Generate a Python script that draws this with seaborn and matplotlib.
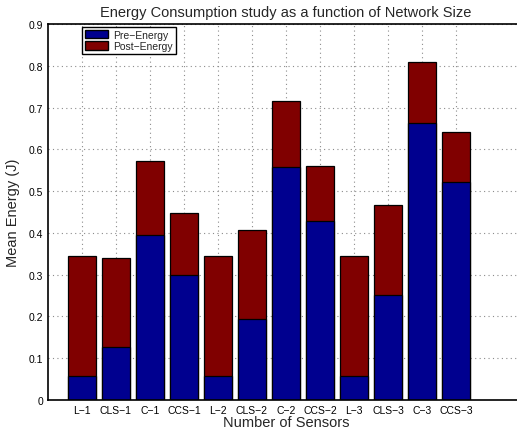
import matplotlib.pyplot as plt
import seaborn as sns
import pandas as pd
from matplotlib.patches import Patch

# data
sensors = ['L−1', 'CLS−1', 'C−1', 'CCS−1', 'L−2', 'CLS−2',
           'C−2', 'CCS−2', 'L−3', 'CLS−3', 'C−3', 'CCS−3']
pre_energy = [0.057, 0.126, 0.395, 0.300, 0.057, 0.193,
              0.557, 0.429, 0.057, 0.251, 0.662, 0.522]
post_energy = [0.288, 0.215, 0.176, 0.147, 0.287, 0.214,
               0.158, 0.131, 0.287, 0.216, 0.147, 0.120]

df = pd.DataFrame({'sensor': sensors, 'pre': pre_energy, 'post': post_energy})
df['total'] = df['pre'] + df['post']

sns.set_style('white')
plt.rcParams['font.family'] = ['Liberation Sans', 'DejaVu Sans']

blue = '#00008F'
red = '#800000'

fig = plt.figure(figsize=(5.17, 4.31), dpi=100)
ax = fig.add_axes([0.0928, 0.0696, 0.9207, 0.8724])

sns.barplot(data=df, x='sensor', y='total', color=red, saturation=1,
            width=0.8, edgecolor='black', linewidth=0.9, ax=ax)
sns.barplot(data=df, x='sensor', y='pre', color=blue, saturation=1,
            width=0.8, edgecolor='black', linewidth=0.9, ax=ax)

ax.set_xlim(-1, 13)
ax.set_ylim(0, 0.9)
ax.set_yticks([i / 10 for i in range(10)])
ax.set_yticklabels(['0'] + ['%.1f' % (i / 10) for i in range(1, 10)])

ax.set_axisbelow(True)
ax.grid(True, linestyle=(0, (1, 3)), color='#8c8c8c', linewidth=0.8)
ax.tick_params(direction='in', length=3, labelsize=7.5, colors='black')

for s in ['left', 'bottom', 'top']:
    ax.spines[s].set_visible(True)
    ax.spines[s].set_color('black')
    ax.spines[s].set_linewidth(1.2)
ax.spines['right'].set_visible(False)

ax.set_title('Energy Consumption study as a function of Network Size',
             fontsize=10.5, pad=6)
ax.set_xlabel('Number of Sensors', fontsize=10.5, labelpad=0)
ax.set_ylabel('Mean Energy (J)', fontsize=10.5, labelpad=6)

handles = [Patch(facecolor=blue, edgecolor='black', label='Pre−Energy'),
           Patch(facecolor=red, edgecolor='black', label='Post−Energy')]
leg = ax.legend(handles=handles, loc='upper left', bbox_to_anchor=(0.071, 0.993),
                borderaxespad=0, fontsize=7.5, fancybox=False, framealpha=1,
                edgecolor='black', handlelength=2.2, handleheight=0.9,
                labelspacing=0.15, borderpad=0.3, handletextpad=0.5)
leg.get_frame().set_linewidth(1)

fig.savefig('out.png', dpi=100)
